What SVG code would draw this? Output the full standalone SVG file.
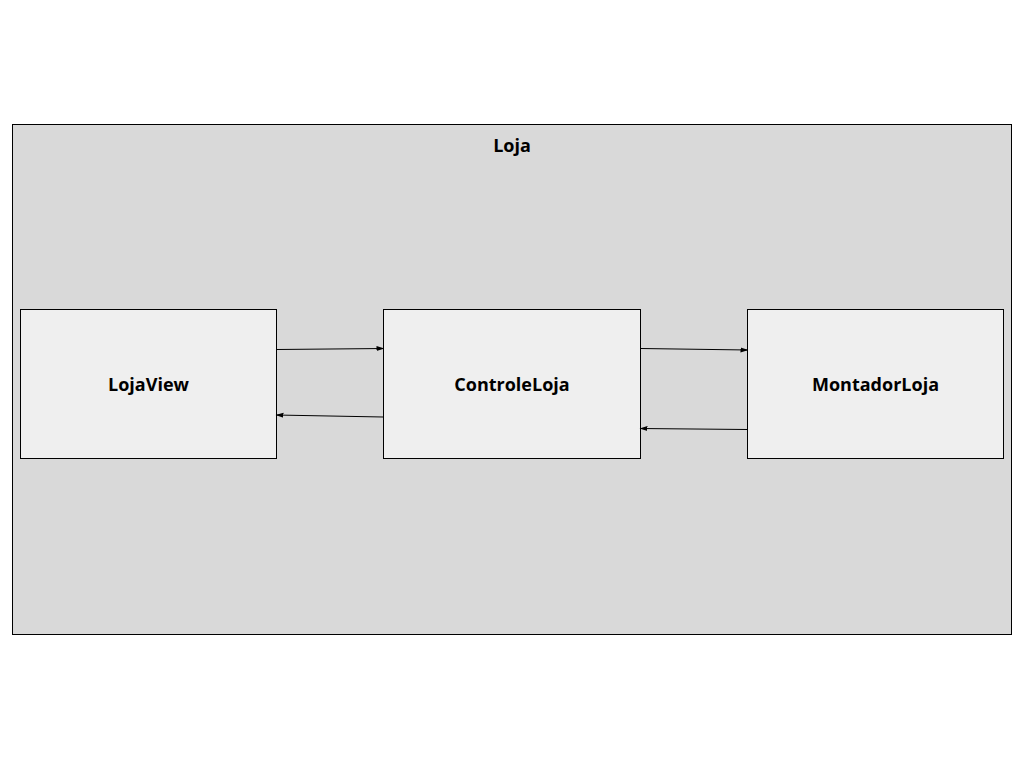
<svg xmlns="http://www.w3.org/2000/svg" width="1024" height="768" viewBox="0 0 1024 768">
<style>
.box{fill:#efefef;stroke:#000;stroke-width:1}
.lbl{font-family:"Open Sans","Noto Sans",sans-serif;font-weight:bold;font-size:18px;fill:#000;text-anchor:middle}
.con{stroke:#000;stroke-width:1;fill:none;marker-end:url(#ah)}
</style>
<defs>
<marker id="ah" markerWidth="8" markerHeight="6" refX="7.5" refY="3" orient="auto" markerUnits="userSpaceOnUse">
<path d="M0,0.5 L8,3 L0,5.5 Z" fill="#000"/>
</marker>
</defs>
<rect width="1024" height="768" fill="#fff"/>
<g id="Loja">
<rect x="12.5" y="124.5" width="999" height="510" fill="#d9d9d9" stroke="#000" stroke-width="1"/>
<text class="lbl" x="512" y="152">Loja</text>
</g>
<g id="LojaView">
<rect class="box" x="20.5" y="309.5" width="256" height="149"/>
<text class="lbl" x="148.5" y="391">LojaView</text>
</g>
<g id="ControleLoja">
<rect class="box" x="383.5" y="309.5" width="257" height="149"/>
<text class="lbl" x="512" y="391">ControleLoja</text>
</g>
<g id="MontadorLoja">
<rect class="box" x="747.5" y="309.5" width="256" height="149"/>
<text class="lbl" x="875.5" y="391">MontadorLoja</text>
</g>
<g id="connectors">
<line class="con" x1="277" y1="349.5" x2="384" y2="348.5"/>
<line class="con" x1="383" y1="417" x2="276" y2="415"/>
<line class="con" x1="641" y1="348.5" x2="748" y2="350"/>
<line class="con" x1="747" y1="429.5" x2="640" y2="428.5"/>
</g>
</svg>
